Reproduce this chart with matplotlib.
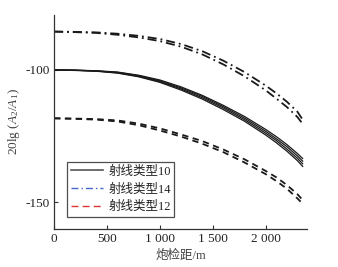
import matplotlib
matplotlib.use("Agg")
import matplotlib.pyplot as plt
from matplotlib.lines import Line2D
from matplotlib.ticker import FixedLocator

plt.rcParams['font.family'] = ['Liberation Serif', 'Noto Sans CJK SC']
plt.rcParams['mathtext.fontset'] = 'custom'
plt.rcParams['mathtext.rm'] = 'Liberation Serif'
plt.rcParams['mathtext.it'] = 'Liberation Serif:italic'
plt.rcParams['axes.unicode_minus'] = False

offset = [0, 200, 400, 600, 800, 1000, 1200, 1400, 1600, 1800, 2000, 2100, 2200, 2300, 2350]

type10 = [
    [-100.0, -100.1, -100.3, -100.8, -102.0, -103.8, -106.4, -109.6, -113.4, -117.6, -122.5, -125.2, -128.2, -131.6, -133.5],
    [-100.0, -100.1, -100.4, -100.9, -102.2, -104.1, -106.8, -110.0, -113.9, -118.2, -123.2, -126.0, -129.0, -132.5, -134.5],
    [-100.0, -100.1, -100.4, -101.1, -102.4, -104.4, -107.2, -110.5, -114.4, -118.8, -123.9, -126.7, -129.9, -133.4, -135.5],
    [-100.0, -100.2, -100.5, -101.2, -102.6, -104.7, -107.6, -111.0, -115.0, -119.4, -124.6, -127.5, -130.7, -134.3, -136.5],
]
type14 = [
    [-85.5, -85.6, -85.8, -86.3, -87.1, -88.3, -90.2, -92.9, -96.5, -100.8, -105.9, -108.8, -112.0, -115.8, -118.8],
    [-85.5, -85.7, -86.0, -86.7, -87.7, -89.1, -91.2, -94.1, -97.9, -102.4, -107.7, -110.8, -114.0, -117.8, -120.4],
]
type12 = [
    [-118.3, -118.4, -118.6, -119.1, -120.3, -122.1, -124.4, -126.9, -130.1, -133.8, -138.2, -140.6, -143.5, -147.0, -149.2],
    [-118.3, -118.5, -118.8, -119.5, -120.9, -122.9, -125.2, -127.9, -131.1, -135.0, -139.4, -142.0, -144.9, -148.6, -150.6],
]
legend_labels = ['射线类型10', '射线类型14', '射线类型12']
xticks = [0, 500, 1000, 1500, 2000]
xticklabels = ['0', '500', '1 000', '1 500', '2 000']
yticks = [-100, -150]

fig = plt.figure(figsize=(3.38, 2.67), dpi=100)
ax = fig.add_axes([0.160, 0.142, 0.748, 0.802])

txt = '#222222'
for ys in type10:
    ax.plot(offset, ys, color='#1a1a1a', lw=0.9, ls='-')
for ys in type14:
    ax.plot(offset, ys, color='#1a1a1a', lw=1.3, ls=(0, (5, 2.2, 1, 2.2)))
for ys in type12:
    ax.plot(offset, ys, color='#1a1a1a', lw=1.3, ls=(0, (3.5, 2.5)))

ax.set_xlim(0, 2390)
ax.set_ylim(-160.2, -79.2)
ax.spines['top'].set_visible(False)
ax.spines['right'].set_visible(False)
for s in ('left', 'bottom'):
    ax.spines[s].set_color('#333333')
    ax.spines[s].set_linewidth(0.9)
ax.xaxis.set_major_locator(FixedLocator(xticks))
ax.set_xticklabels(xticklabels)
ax.set_yticks(yticks)
ax.tick_params(direction='in', length=3, width=0.8, colors='#333333',
               labelsize=9.5, labelcolor=txt, pad=3)

ax.set_xlabel('炮检距/m', fontsize=9, color='#444444', labelpad=3)
ax.set_ylabel(r'20lg ($A_2/A_1$)', fontsize=9.5, color='#444444')
ax.yaxis.set_label_coords(-0.125, 0.5)

handles = [
    Line2D([], [], color='#555555', lw=1.2, ls='-'),
    Line2D([], [], color='#4466cc', lw=1.0, ls=(0, (5, 2.2, 1, 2.2))),
    Line2D([], [], color='#dd3333', lw=1.0, ls=(0, (5, 3))),
]
leg = ax.legend(handles, legend_labels, loc='lower left', bbox_to_anchor=(0.051, 0.056),
                borderaxespad=0, fontsize=9, frameon=True, fancybox=False,
                handlelength=2.6, handletextpad=0.4, labelspacing=0.45,
                borderpad=0.3)
leg.get_frame().set_edgecolor('#222222')
leg.get_frame().set_linewidth(0.9)
for t in leg.get_texts():
    t.set_color(txt)

fig.savefig('out.png', dpi=100)
